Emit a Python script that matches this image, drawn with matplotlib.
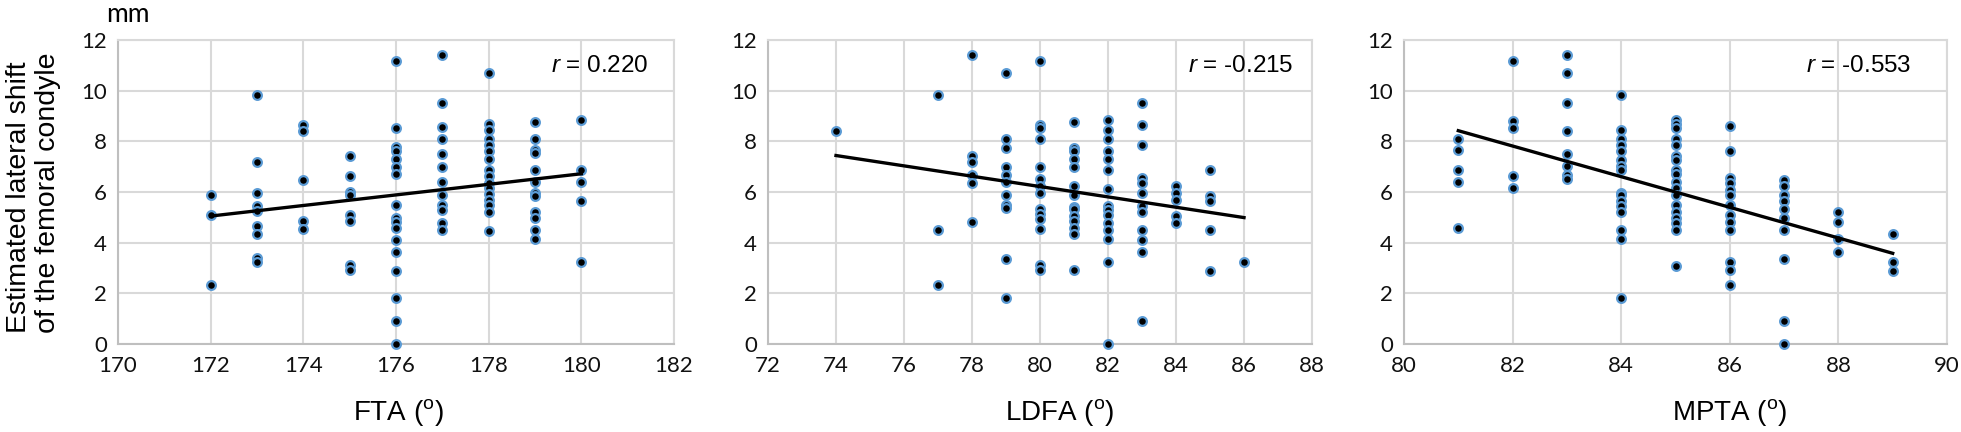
import matplotlib
matplotlib.use("Agg")
import matplotlib.pyplot as plt
import numpy as np

plt.rcParams['mathtext.fontset'] = 'custom'
plt.rcParams['mathtext.rm'] = 'Liberation Sans'
plt.rcParams['mathtext.it'] = 'Liberation Sans:italic'

# ---------------- data ----------------
# FTA panel
fta_x = ([172]*3 + [173]*9 + [174]*5 + [175]*8 + [176]*17 + [177]*12 +
         [178]*16 + [179]*12 + [180]*5)
fta_y = [5.87, 5.11, 2.32,
         9.84, 7.19, 5.98, 5.44, 5.25, 4.66, 4.33, 3.41, 3.24,
         8.64, 8.42, 6.47, 4.84, 4.52,
         7.41, 6.64, 6.00, 5.87, 5.09, 4.85, 3.11, 2.92,
         11.16, 8.52, 7.76, 7.63, 7.30, 6.99, 6.73, 5.48, 4.96, 4.81, 4.59, 4.09, 3.65, 2.87, 1.80, 0.89, 0.00,
         11.40, 9.53, 8.55, 8.09, 7.51, 6.98, 6.41, 5.87, 5.48, 5.29, 4.79, 4.50,
         10.69, 8.70, 8.46, 8.09, 7.87, 7.63, 7.30, 6.85, 6.62, 6.36, 6.16, 5.94, 5.70, 5.48, 5.21, 4.47,
         8.77, 8.09, 7.67, 7.54, 6.86, 6.39, 5.98, 5.84, 5.21, 4.96, 4.50, 4.13,
         8.85, 6.86, 6.41, 5.64, 3.25]
fta_trend_x = [172, 180]
fta_trend_y = [5.05, 6.72]
fta_r = "0.220"

# LDFA panel
ldfa_x = ([74]*1 + [77]*3 + [78]*6 + [79]*11 + [80]*14 + [81]*14 + [82]*15 +
          [83]*12 + [84]*5 + [85]*5 + [86]*1)
ldfa_y = [8.42,
          9.84, 4.50, 2.32,
          11.40, 7.41, 7.19, 6.69, 6.36, 4.83,
          10.69, 8.09, 7.74, 6.99, 6.69, 6.40, 5.87, 5.48, 5.38, 3.37, 1.80,
          11.16, 8.64, 8.52, 8.09, 6.98, 6.53, 6.23, 5.97, 5.31, 5.15, 4.92, 4.52, 3.11, 2.92,
          8.77, 7.74, 7.63, 7.30, 6.99, 6.23, 5.87, 5.42, 5.31, 5.05, 4.85, 4.59, 4.33, 2.92,
          8.85, 8.46, 8.09, 7.63, 7.30, 6.85, 6.10, 5.44, 5.29, 5.09, 4.79, 4.50, 4.16, 3.25, 0.00,
          9.53, 8.64, 7.87, 6.56, 6.36, 5.98, 5.44, 5.21, 4.50, 4.09, 3.65, 0.89,
          6.23, 5.97, 5.70, 5.05, 4.76,
          6.85, 5.84, 5.64, 4.49, 2.87,
          3.25]
ldfa_trend_x = [74, 86]
ldfa_trend_y = [7.44, 4.99]
ldfa_r = "-0.215"

# MPTA panel
mpta_x = ([81]*5 + [82]*5 + [83]*8 + [84]*16 + [85]*18 + [86]*13 + [87]*10 +
          [88]*4 + [89]*3)
mpta_y = [8.10, 7.67, 6.86, 6.41, 4.59,
          11.16, 8.81, 8.52, 6.64, 6.16,
          11.40, 10.69, 9.53, 8.42, 7.51, 7.02, 6.69, 6.52,
          9.84, 8.46, 8.09, 7.87, 7.63, 7.28, 7.02, 6.86, 5.97, 5.87, 5.64, 5.44, 5.21, 4.50, 4.16, 1.80,
          8.85, 8.70, 8.52, 8.09, 7.87, 7.41, 7.28, 6.86, 6.73, 6.40, 6.16, 5.87, 5.48, 5.21, 4.96, 4.79, 4.50, 3.08,
          8.62, 7.63, 6.56, 6.36, 6.07, 5.87, 5.48, 5.09, 4.83, 4.50, 3.25, 2.92, 2.32,
          6.47, 6.23, 5.87, 5.64, 5.31, 4.98, 4.50, 3.37, 0.89, 0.00,
          5.21, 4.83, 4.13, 3.65,
          4.33, 3.25, 2.87]
mpta_trend_x = [81, 89]
mpta_trend_y = [8.42, 3.58]
mpta_r = "-0.553"

x_labels = ["FTA", "LDFA", "MPTA"]
x_limits = [(170, 182), (72, 88), (80, 90)]
y_ticks = [0, 2, 4, 6, 8, 10, 12]
y_label = "Estimated lateral shift\nof the femoral condyle"
unit_label = "mm"

# ---------------- layout ----------------
W, H = 1961, 432
fig = plt.figure(figsize=(W / 100, H / 100), dpi=100)

axes_px = [(118, 674), (768, 1312), (1404, 1947)]
top_px, bot_px = 40, 344
r_xfrac = [0.955, 0.966, 0.935]
xlabel_left = [353, 1005, 1672]

panels = [
    (fta_x, fta_y, fta_trend_x, fta_trend_y, fta_r),
    (ldfa_x, ldfa_y, ldfa_trend_x, ldfa_trend_y, ldfa_r),
    (mpta_x, mpta_y, mpta_trend_x, mpta_trend_y, mpta_r),
]

grid_c = '#D9D9D9'
axis_c = '#BFBFBF'
tick_font = 'Lato'

for i, (xs, ys, tx, ty, rv) in enumerate(panels):
    l, r = axes_px[i]
    ax = fig.add_axes([l / W, 1 - bot_px / H, (r - l) / W, (bot_px - top_px) / H])
    ax.set_xlim(*x_limits[i])
    ax.set_ylim(0, 12)
    ax.set_xticks(np.arange(x_limits[i][0], x_limits[i][1] + 1, 2))
    ax.set_yticks(y_ticks)
    ax.grid(True, color=grid_c, linewidth=1.5, zorder=0)
    ax.set_axisbelow(True)
    for s in ['top', 'right']:
        ax.spines[s].set_color(grid_c)
        ax.spines[s].set_linewidth(1.5)
    for s in ['left', 'bottom']:
        ax.spines[s].set_color(axis_c)
        ax.spines[s].set_linewidth(1.5)
    ax.tick_params(length=0, labelsize=16, colors='#111111')
    ax.tick_params(axis='x', pad=9)
    ax.tick_params(axis='y', pad=8)
    for lab in ax.get_xticklabels() + ax.get_yticklabels():
        lab.set_fontfamily(tick_font)
    ax.plot(xs, ys, linestyle='none', marker='o', markersize=6.3,
            markerfacecolor='black', markeredgecolor='#5B9BD5',
            markeredgewidth=1.6, zorder=3, clip_on=False)
    ax.plot(tx, ty, color='black', linewidth=2.4, zorder=4)
    ax.text(r_xfrac[i], 0.913, r'$\it{r}$ = ' + rv, transform=ax.transAxes,
            ha='right', va='center', fontsize=17.5, fontfamily='Liberation Sans',
            color='black')
    fig.text(xlabel_left[i] / W, 1 - 412 / H,
             x_labels[i] + r' ($^{\mathregular{o}}$)',
             ha='left', va='center', fontsize=20, fontfamily='Liberation Sans')

fig.text(34 / W, 1 - 333 / H, y_label, rotation=90, ha='center', va='bottom',
         multialignment='left', fontsize=20.5, fontfamily='Liberation Sans',
         linespacing=1.15)
fig.text(128 / W, 1 - 14 / H, unit_label, ha='center', va='center',
         fontsize=19, fontfamily=tick_font)

fig.savefig('out.png', dpi=100)
